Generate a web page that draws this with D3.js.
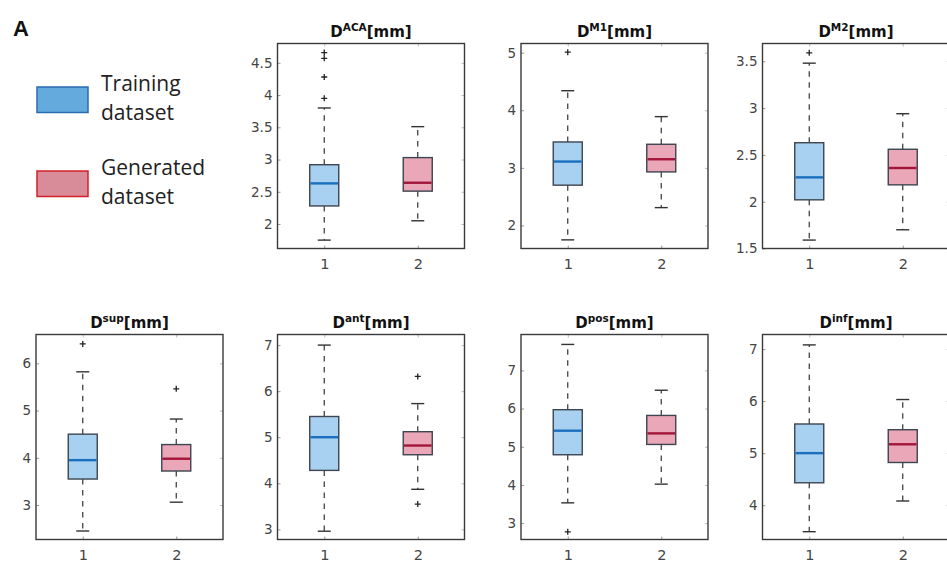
<!DOCTYPE html>
<html>

<head>
  <meta charset="UTF-8">
  <title>Boxplots</title>
  <style>
    body { margin: 0; background: #fff; }
    svg { display: block; }
  </style>
</head>

<body>
  <script src="https://cdn.jsdelivr.net/npm/d3@7"></script>
  <script>
    const width = 947,
      height = 562

    // panel titles (superscripts) and y ranges / ticks
    const titles = ['ACA', 'M1', 'M2', 'sup', 'ant', 'pos', 'inf']
    const yMin = [1.62, 1.6, 1.5, 2.27, 2.78, 2.57, 3.34]
    const yMax = [4.8, 5.16, 3.69, 6.61, 7.23, 7.94, 7.28]
    const yTicks = [
      [2, 2.5, 3, 3.5, 4, 4.5],
      [2, 3, 4, 5],
      [1.5, 2, 2.5, 3, 3.5],
      [3, 4, 5, 6],
      [3, 4, 5, 6, 7],
      [3, 4, 5, 6, 7],
      [4, 5, 6, 7]
    ]
    const groups = [1, 2]

    // training dataset (group 1)
    const trainLow = [1.75, 1.75, 1.59, 2.45, 2.96, 3.53, 3.49]
    const trainQ1 = [2.28, 2.70, 2.02, 3.55, 4.28, 4.79, 4.43]
    const trainMed = [2.63, 3.11, 2.26, 3.95, 5.0, 5.42, 5.0]
    const trainQ3 = [2.92, 3.45, 2.63, 4.50, 5.45, 5.97, 5.56]
    const trainHigh = [3.80, 4.34, 3.48, 5.82, 7.0, 7.68, 7.08]
    const trainOut = [[3.95, 4.28, 4.57, 4.66], [5.01], [3.59], [6.41], [], [2.77], []]

    // generated dataset (group 2)
    const genLow = [2.05, 2.31, 1.70, 3.06, 3.87, 4.02, 4.08]
    const genQ1 = [2.51, 2.93, 2.18, 3.72, 4.62, 5.06, 4.82]
    const genMed = [2.64, 3.15, 2.36, 3.98, 4.82, 5.35, 5.17]
    const genQ3 = [3.03, 3.41, 2.56, 4.28, 5.12, 5.82, 5.45]
    const genHigh = [3.51, 3.89, 2.94, 4.82, 5.73, 6.48, 6.03]
    const genOut = [[], [], [], [5.46], [3.55, 6.32], [], []]

    // layout
    const colX = [36, 277.5, 521, 762.5]
    const rowY = [43.5, 334.5]
    const pw = 187, ph = 205
    const slots = [[1, 0], [2, 0], [3, 0], [0, 1], [1, 1], [2, 1], [3, 1]]

    const svg = d3.select('body')
      .append('svg')
      .attr('width', width)
      .attr('height', height)

    const styles = [
      { fill: '#a8d0f0', med: '#1b6fbf' },
      { fill: '#e9a7b7', med: '#a3163a' }
    ]

    svg.append('text')
      .attr('x', 13)
      .attr('y', 36)
      .attr('font-family', 'Liberation Sans, Arial, sans-serif')
      .attr('font-weight', 'bold')
      .attr('font-size', 22)
      .attr('fill', '#111')
      .text('A')

    // legend
    const legend = [
      { lines: ['Training', 'dataset'], fill: '#64aadd', stroke: '#2a6bb0', y: 87 },
      { lines: ['Generated', 'dataset'], fill: '#d88b99', stroke: '#d2202b', y: 171 }
    ]
    legend.forEach(l => {
      svg.append('rect')
        .attr('x', 37)
        .attr('y', l.y)
        .attr('width', 51)
        .attr('height', 25.5)
        .attr('fill', l.fill)
        .attr('stroke', l.stroke)
        .attr('stroke-width', 1.5)
      l.lines.forEach((t, i) => {
        svg.append('text')
          .attr('x', 101)
          .attr('y', l.y + 4 + i * 28.5)
          .attr('font-family', 'Open Sans, sans-serif')
          .attr('font-size', 21)
          .attr('fill', '#222')
          .text(t)
      })
    })

    function drawPanel(p) {
      const [c, r] = slots[p]
      const g = svg.append('g')
        .attr('transform', `translate(${colX[c]}, ${rowY[r]})`)

      const x = d3.scaleLinear().domain([0.5, 2.5]).range([0, pw])
      const y = d3.scaleLinear().domain([yMin[p], yMax[p]]).range([ph, 0])

      // y axis (left) with inward ticks
      const yAxis = d3.axisLeft(y)
        .tickValues(yTicks[p])
        .tickFormat(d => String(d))
        .tickSizeInner(-3)
        .tickSizeOuter(0)
        .tickPadding(5)
      const ya = g.append('g').call(yAxis)
      ya.select('.domain').remove()
      ya.selectAll('line').attr('stroke', '#999')
      ya.selectAll('text')
        .attr('font-family', 'DejaVu Sans, sans-serif')
        .attr('font-size', 13.5)
        .attr('fill', '#444')

      // mirrored ticks on right
      const yr = g.append('g')
        .attr('transform', `translate(${pw}, 0)`)
        .call(d3.axisRight(y).tickValues(yTicks[p]).tickSizeInner(-3).tickSizeOuter(0).tickFormat(''))
      yr.select('.domain').remove()
      yr.selectAll('line').attr('stroke', '#bbb')

      const xAxis = d3.axisBottom(x)
        .tickValues(groups)
        .tickFormat(d => String(d))
        .tickSizeInner(-3)
        .tickSizeOuter(0)
        .tickPadding(10)
      const xa = g.append('g')
        .attr('transform', `translate(0, ${ph})`)
        .call(xAxis)
      xa.select('.domain').remove()
      xa.selectAll('line').attr('stroke', '#999')
      xa.selectAll('text')
        .attr('font-family', 'DejaVu Sans, sans-serif')
        .attr('font-size', 14.5)
        .attr('fill', '#444')

      const xt = g.append('g')
        .call(d3.axisTop(x).tickValues(groups).tickSizeInner(-3).tickSizeOuter(0).tickFormat(''))
      xt.select('.domain').remove()
      xt.selectAll('line').attr('stroke', '#bbb')

      // frame
      g.append('rect')
        .attr('width', pw)
        .attr('height', ph)
        .attr('fill', 'none')
        .attr('stroke', '#3a3a3a')
        .attr('stroke-width', 1.4)

      const stats = [
        { lo: trainLow[p], q1: trainQ1[p], med: trainMed[p], q3: trainQ3[p], hi: trainHigh[p], out: trainOut[p] },
        { lo: genLow[p], q1: genQ1[p], med: genMed[p], q3: genQ3[p], hi: genHigh[p], out: genOut[p] }
      ]
      const bw = 29, cw = 13

      stats.forEach((s, i) => {
        const cx = x(groups[i])
        const st = styles[i]
        // whiskers
        g.append('line')
          .attr('x1', cx).attr('x2', cx)
          .attr('y1', y(s.q3)).attr('y2', y(s.hi))
          .attr('stroke', '#333').attr('stroke-width', 1.2)
          .attr('stroke-dasharray', '5.5,5.5')
        g.append('line')
          .attr('x1', cx).attr('x2', cx)
          .attr('y1', y(s.q1)).attr('y2', y(s.lo))
          .attr('stroke', '#333').attr('stroke-width', 1.2)
          .attr('stroke-dasharray', '5.5,5.5')
        ;[s.hi, s.lo].forEach(v => {
          g.append('line')
            .attr('x1', cx - cw / 2).attr('x2', cx + cw / 2)
            .attr('y1', y(v)).attr('y2', y(v))
            .attr('stroke', '#333').attr('stroke-width', 1.4)
        })
        // box
        g.append('rect')
          .attr('x', cx - bw / 2)
          .attr('y', y(s.q3))
          .attr('width', bw)
          .attr('height', y(s.q1) - y(s.q3))
          .attr('fill', st.fill)
          .attr('stroke', '#3c4550')
          .attr('stroke-width', 1.4)
        g.append('line')
          .attr('x1', cx - bw / 2 + 0.7).attr('x2', cx + bw / 2 - 0.7)
          .attr('y1', y(s.med)).attr('y2', y(s.med))
          .attr('stroke', st.med).attr('stroke-width', 2.4)
        // outliers
        s.out.forEach(v => {
          g.append('path')
            .attr('d', `M${cx - 3},${y(v)}H${cx + 3}M${cx},${y(v) - 3}V${y(v) + 3}`)
            .attr('stroke', '#222').attr('stroke-width', 1.3)
        })
      })

      // title D^{xx}[mm]
      const t = g.append('text')
        .attr('x', pw / 2)
        .attr('y', -7)
        .attr('text-anchor', 'middle')
        .attr('font-family', 'DejaVu Sans, sans-serif')
        .attr('font-weight', 'bold')
        .attr('font-size', 15)
        .attr('fill', '#111')
      t.append('tspan').text('D')
      t.append('tspan').attr('dy', -6).attr('font-size', 10.5).text(titles[p])
      t.append('tspan').attr('dy', 6).text('[mm]')
    }

    titles.forEach((d, i) => drawPanel(i))
  </script>
</body>

</html>
